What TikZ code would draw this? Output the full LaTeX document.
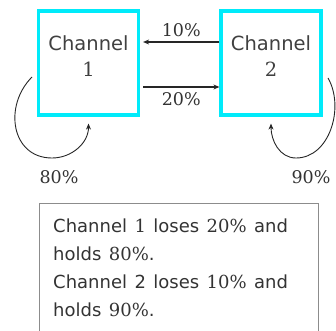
\documentclass[tikz,border=0pt]{standalone}
\usepackage{fontspec}
\setmainfont{DejaVu Serif}
\setsansfont{DejaVu Sans}
\newfontfamily\notefont[WordSpace=1.3]{DejaVu Sans}
\usetikzlibrary{arrows.meta,positioning}
\newcommand{\dg}[1]{{\rmfamily #1}}
\definecolor{aqua}{RGB}{0,235,250}

\begin{document}
\begin{tikzpicture}[x=1pt,y=1pt,>={Stealth[length=6pt,width=5pt]}]
  \tikzset{
    chan/.style={draw=aqua,line width=3.2pt,minimum width=100pt,minimum height=104pt,inner sep=0pt},
    chantxt/.style={font=\sffamily\fontsize{19.5}{26}\selectfont,align=center,text=black!75},
    pct/.style={font=\fontsize{17.5}{18}\selectfont,text=black!80},
    flow/.style={->,line width=1.3pt,black!85},
    loop/.style={->,line width=0.9pt,black!85},
    note/.style={draw=black!45,line width=1.3pt,minimum width=279pt,minimum height=140pt,inner sep=0pt}
  }
  \useasboundingbox (0,0) rectangle (336,330);
  \clip (0,0) rectangle (336,330);
  % the two channels
  \node[chan] (ch1) at (88.5,267) {};
  \node[chan] (ch2) at (271,267) {};
  \node[chantxt] (ch1txt) at ([yshift=7pt]ch1.center) {Channel\\\dg{1}};
  \node[chantxt] (ch2txt) at ([yshift=7pt]ch2.center) {Channel\\\dg{2}};
  % transfers between them
  \draw[flow] ([yshift=21pt]ch2.west) -- node[pct,above=1pt] (p10) {10\%} ([yshift=21pt,xshift=3pt]ch1.east);
  \draw[flow] ([yshift=-24pt,xshift=3pt]ch1.east) -- node[pct,below=2pt] (p20) {20\%} ([yshift=-24pt]ch2.west);
  % what each one keeps
  \coordinate (l1) at (32,253);
  \coordinate (l2) at (328,252);
  \draw[loop] (l1) to[out=-135,in=180,looseness=1.25] (52,172) to[out=0,in=-90] ([yshift=-7pt]ch1.south);
  \draw[loop] (l2) to[out=-60,in=0] (296,172) to[out=180,in=-90] ([yshift=-7pt]ch2.south);
  \node[pct] (p80) at (59,153) {80\%};
  \node[pct] (p90) at (311,153) {90\%};
  % summary
  \node[note,anchor=north west] (summary) at (38.5,127) {};
  \node[anchor=north west,align=left,inner sep=0pt,text=black!80,
        font=\notefont\fontsize{18}{28}\selectfont] (sumtxt) at (53,111)
    {Channel \dg{1} loses \dg{20\%} and\\holds \dg{80\%}.\\Channel 2 loses \dg{10\%} and\\holds \dg{90\%}.};
\end{tikzpicture}
\end{document}
